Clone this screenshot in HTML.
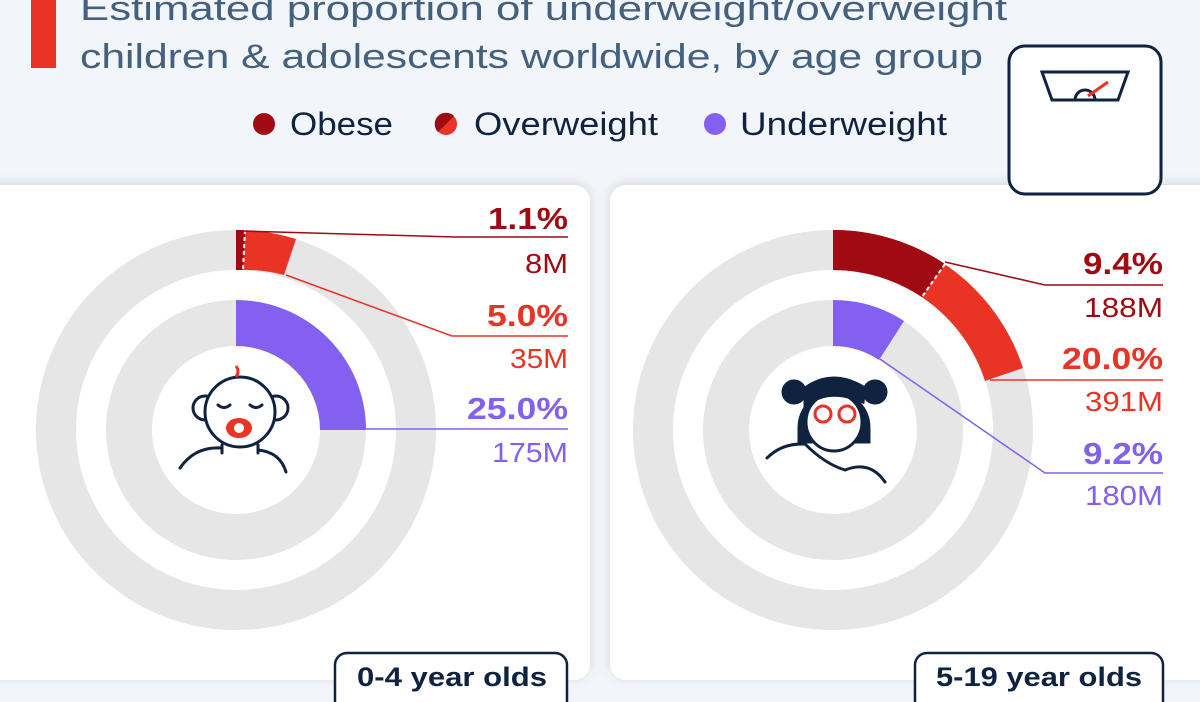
<!DOCTYPE html>
<html><head><meta charset="utf-8"><style>
html,body{margin:0;padding:0;width:1200px;height:702px;overflow:hidden;background:#f2f5f9;font-family:"Liberation Sans",sans-serif}
</style></head><body>
<svg width="1200" height="702" viewBox="0 0 1200 702" xmlns="http://www.w3.org/2000/svg" style="position:absolute;left:0;top:0">
<defs><filter id="sh" x="-10%" y="-10%" width="120%" height="120%"><feDropShadow dx="0" dy="-2" stdDeviation="5" flood-color="#000" flood-opacity="0.12"/></filter></defs>
<rect x="31" y="-10" width="25" height="78" fill="#e93325"/>
<g font-size="34" fill="#44607f" lengthAdjust="spacingAndGlyphs">
<text x="80" y="20" textLength="927" lengthAdjust="spacingAndGlyphs">Estimated proportion of underweight/overweight</text>
<text x="80" y="68" textLength="903" lengthAdjust="spacingAndGlyphs">children &amp; adolescents worldwide, by age group</text>
</g>
<circle cx="264" cy="124" r="11" fill="#a00a12"/>
<text x="290" y="135" font-size="32" fill="#0f2240" textLength="103" lengthAdjust="spacingAndGlyphs">Obese</text>
<circle cx="446" cy="124" r="11" fill="#e93325"/>
<path d="M438 132 A11 11 0 0 1 454 116 Z" fill="#a00a12"/>
<text x="474" y="135" font-size="32" fill="#0f2240" textLength="184" lengthAdjust="spacingAndGlyphs">Overweight</text>
<circle cx="715" cy="124" r="11" fill="#8460f0"/>
<text x="740" y="135" font-size="32" fill="#0f2240" textLength="207" lengthAdjust="spacingAndGlyphs">Underweight</text>
<rect x="-20" y="185" width="610" height="495" rx="16" fill="#fff" filter="url(#sh)"/>
<rect x="610" y="185" width="610" height="495" rx="16" fill="#fff" filter="url(#sh)"/>
<rect x="1009" y="46" width="152" height="148" rx="16" fill="#fff" stroke="#0f2240" stroke-width="3"/>
<path d="M1042 72 H1128 L1118 100 H1052 Z" fill="none" stroke="#0f2240" stroke-width="3"/>
<path d="M1075 100 A10 10 0 0 1 1095 100" fill="none" stroke="#0f2240" stroke-width="3"/>
<line x1="1088" y1="96" x2="1108" y2="82" stroke="#e93325" stroke-width="3"/>
<g fill="none">
<circle cx="236" cy="430" r="180" stroke="#e6e6e6" stroke-width="40"/>
<circle cx="236" cy="430" r="107" stroke="#e6e6e6" stroke-width="46"/>
<circle cx="833" cy="430" r="180" stroke="#e6e6e6" stroke-width="40"/>
<circle cx="833" cy="430" r="107" stroke="#e6e6e6" stroke-width="46"/>
</g>
<path d="M236 230 A200 200 0 0 1 296 239 L284 275 A160 160 0 0 0 236 270 Z" fill="#e93325"/>
<path d="M236 230 A200 200 0 0 1 245 230 L243 270 A160 160 0 0 0 236 270 Z" fill="#a00a12"/>
<line x1="245" y1="230" x2="243" y2="270" stroke="#fff" stroke-width="2" stroke-dasharray="4 3"/>
<path d="M236 300 A130 130 0 0 1 366 430 L320 430 A84 84 0 0 0 236 346 Z" fill="#8460f0"/>
<path d="M833 230 A200 200 0 0 1 1023 368 L985 381 A160 160 0 0 0 833 270 Z" fill="#e93325"/>
<path d="M833 230 A200 200 0 0 1 945 264 L922 297 A160 160 0 0 0 833 270 Z" fill="#a00a12"/>
<line x1="945" y1="264" x2="922" y2="297" stroke="#fff" stroke-width="2" stroke-dasharray="4 3"/>
<path d="M833 300 A130 130 0 0 1 904 321 L879 360 A84 84 0 0 0 833 346 Z" fill="#8460f0"/>
<g fill="none" stroke-width="1.5">
<polyline points="240,231 455,237 568,237" stroke="#a00a12"/>
<polyline points="286,275 452,336 568,336" stroke="#e93325"/>
<polyline points="366,429 568,429" stroke="#8460f0"/>
<polyline points="945,262 1045,285 1163,285" stroke="#a00a12"/>
<polyline points="990,380 1163,380" stroke="#e93325"/>
<polyline points="880,359 1045,473 1163,473" stroke="#8460f0"/>
</g>
<g font-size="31">
<text x="488" y="229" font-weight="bold" fill="#a00a12" textLength="80" lengthAdjust="spacingAndGlyphs">1.1%</text>
<text x="525" y="273" font-size="28" fill="#a00a12" textLength="43" lengthAdjust="spacingAndGlyphs">8M</text>
<text x="487" y="326" font-weight="bold" fill="#e93325" textLength="81" lengthAdjust="spacingAndGlyphs">5.0%</text>
<text x="510" y="368" font-size="28" fill="#e93325" textLength="58" lengthAdjust="spacingAndGlyphs">35M</text>
<text x="467" y="419" font-weight="bold" fill="#8460f0" textLength="101" lengthAdjust="spacingAndGlyphs">25.0%</text>
<text x="492" y="462" font-size="28" fill="#8460f0" textLength="76" lengthAdjust="spacingAndGlyphs">175M</text>
<text x="1083" y="274" font-weight="bold" fill="#a00a12" textLength="80" lengthAdjust="spacingAndGlyphs">9.4%</text>
<text x="1084" y="317" font-size="28" fill="#a00a12" textLength="79" lengthAdjust="spacingAndGlyphs">188M</text>
<text x="1062" y="369" font-weight="bold" fill="#e93325" textLength="101" lengthAdjust="spacingAndGlyphs">20.0%</text>
<text x="1085" y="411" font-size="28" fill="#e93325" textLength="78" lengthAdjust="spacingAndGlyphs">391M</text>
<text x="1083" y="464" font-weight="bold" fill="#8460f0" textLength="80" lengthAdjust="spacingAndGlyphs">9.2%</text>
<text x="1085" y="505" font-size="28" fill="#8460f0" textLength="78" lengthAdjust="spacingAndGlyphs">180M</text>
</g>
<g fill="none" stroke="#0f2240" stroke-width="3" stroke-linecap="round">
<circle cx="205" cy="408" r="12" fill="#fff"/><circle cx="276" cy="408" r="12" fill="#fff"/>
<circle cx="240" cy="412" r="35" fill="#fff"/>
<path d="M218 405 q6 5 12 0 M250 405 q6 5 12 0"/>
<path d="M222 445 v8 M258 445 v8 M180 468 q15 -22 42 -20 M258 450 q22 2 28 22"/>
</g>
<ellipse cx="239" cy="428" rx="13" ry="10" fill="#e93325"/><circle cx="239" cy="428" r="5" fill="#fff"/>
<path d="M236 366 q4 5 0 11" stroke="#e93325" stroke-width="3" fill="none"/>
<g stroke="#0f2240" stroke-width="3" fill="none" stroke-linecap="round">
<circle cx="794" cy="392" r="11" fill="#0f2240"/><circle cx="875" cy="392" r="11" fill="#0f2240"/>
<path d="M799 428 a35 36 0 0 1 70 0 v14 h-70 Z" fill="#0f2240"/>
<ellipse cx="834" cy="422" rx="28" ry="29" fill="#fff"/>
<path d="M805 408 q20 -22 58 -6 l2 -14 q-32 -20 -60 0 Z" fill="#0f2240"/>
<path d="M767 458 q15 -15 38 -14 q20 20 40 26 q25 -10 40 12"/>
</g>
<g stroke="#e93325" stroke-width="3" fill="none"><circle cx="823" cy="414" r="8"/><circle cx="847" cy="414" r="8"/></g>
<rect x="335" y="653" width="232" height="60" rx="12" fill="#fff" stroke="#0f2240" stroke-width="2.5"/>
<text x="357" y="686" font-size="27" font-weight="bold" fill="#0f2240" textLength="190" lengthAdjust="spacingAndGlyphs">0-4 year olds</text>
<rect x="915" y="653" width="248" height="60" rx="12" fill="#fff" stroke="#0f2240" stroke-width="2.5"/>
<text x="936" y="686" font-size="27" font-weight="bold" fill="#0f2240" textLength="206" lengthAdjust="spacingAndGlyphs">5-19 year olds</text>
</svg>
</body></html>
